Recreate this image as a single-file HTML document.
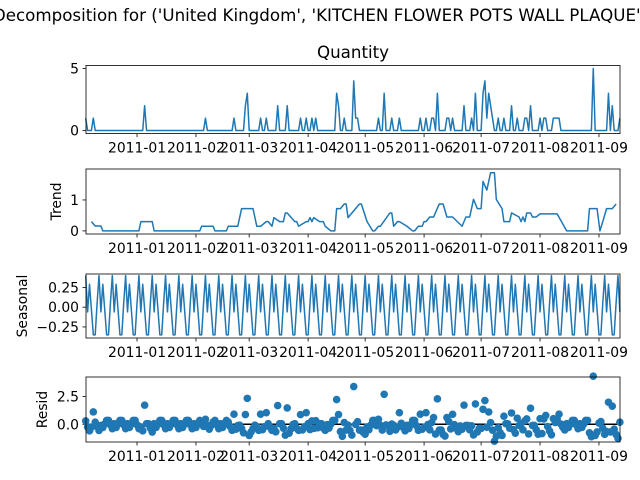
<!DOCTYPE html>
<html><head><meta charset="utf-8">
<style>
html,body{margin:0;padding:0;background:#fff;}
svg{display:block;font-family:"DejaVu Sans","Liberation Sans",sans-serif;}
</style></head>
<body>
<svg id="chart" width="640" height="480" viewBox="0 0 640 480" xmlns="http://www.w3.org/2000/svg">
<text x="320" y="21" text-anchor="middle" font-size="16.7" fill="#000">Decomposition for ('United Kingdom', 'KITCHEN FLOWER POTS WALL PLAQUE')</text>
<text x="353" y="58" text-anchor="middle" font-size="16.7" fill="#000">Quantity</text>
<g id="plots"></g>
</svg>
<script>
// Day index = days since 2010-12-01
const monthLabels = ["2011-01","2011-02","2011-03","2011-04","2011-05","2011-06","2011-07","2011-08","2011-09"];
const monthDays = [31,62,90,121,151,182,212,243,274];
const firstDay = 4, lastDay = 285;
// Observed quantity: nonzero days and values (all other days 0)
const spikeDays = [4,8,35,67,82,88,89,96,99,105,110,117,120,123,125,136,137,140,145,146,147,158,161,165,169,180,183,186,187,189,194,195,197,203,207,209,213,214,215,216,217,218,221,224,228,231,235,236,238,243,245,246,250,251,252,253,271,279,281,285];
const spikeVals = [1,1,2,1,1,2,3,1,1,2,2,1,1,1,1,3,2,1,4,1,1,1,3,1,1,1,1,1,1,3,1,1,1,2,1,3,3,4,1,3,2,1,1,1,2,1,1,1,2,1,1,1,1,1,1,1,5,3,2,1];
// Trend keypoints
const trendDays = [7,9,12,13,32,33,39,40,64,65,71,72,78,79,84,86,92,94,96,99,100,102,103,106,108,109,110,114,115,116,120,121,122,123,124,127,129,130,133,135,136,138,140,141,142,148,149,152,155,156,158,159,164,165,166,168,169,173,176,177,179,181,182,183,185,187,190,192,194,197,202,204,206,208,210,212,213,215,217,219,220,223,224,227,228,232,233,234,235,236,238,239,241,243,252,257,268,269,273,274.5,276,278,281,283];
const trendVals = [0.3,0.16,0.16,0,0,0.3,0.3,0,0,0.15,0.15,0,0,0.15,0.15,0.72,0.72,0.15,0.15,0.3,0.3,0.15,0.43,0.3,0.3,0.58,0.58,0.3,0.3,0.15,0.3,0.3,0.43,0.3,0.43,0.3,0.3,0.15,0,0,0.72,0.72,0.87,0.87,0.43,0.87,0.87,0.3,0,0,0.15,0.15,0.58,0.58,0.15,0.3,0.3,0.15,0,0,0.15,0.15,0.3,0.3,0.45,0.45,0.87,0.87,0.45,0.45,0.15,0.45,0.45,1.02,0.72,0.72,1.6,1.32,1.88,1.88,1.02,0.72,0.3,0.3,0.58,0.45,0.3,0.45,0.3,0.58,0.58,0.45,0.45,0.55,0.55,0,0,0.72,0.72,0,0.3,0.72,0.72,0.87];
// Weekly seasonal component (starting at first day)
const seasonWeek = [0.40,-0.06,0.29,-0.03,-0.35,-0.35,0.05];
const tickValsQ=[0,5], tickLabelsQ=["0","5"];
const tickValsT=[0,1], tickLabelsT=["0","1"];
const tickValsS=[-0.25,0,0.25], tickLabelsS=["−0.25","0.00","0.25"];
const tickValsR=[0,2.5], tickLabelsR=["0.0","2.5"];

const NS="http://www.w3.org/2000/svg";
const g=document.getElementById('plots');
const X0=86,X1=620;
function xs(d){return 78.1+1.901*d;}
function mk(tag,attrs,parent){const e=document.createElementNS(NS,tag);for(const k in attrs)e.setAttribute(k,attrs[k]);(parent||g).appendChild(e);return e;}
const blue="#1f77b4";

const days=[];for(let d=firstDay;d<=lastDay;d++)days.push(d);
const qty=days.map(d=>{const i=spikeDays.indexOf(d);return i>=0?spikeVals[i]:0;});
function trendAt(d){
  if(d<=trendDays[0])return trendVals[0];
  for(let i=1;i<trendDays.length;i++){if(d<=trendDays[i]){const a=trendDays[i-1],b=trendDays[i];const t=b===a?1:(d-a)/(b-a);return trendVals[i-1]+(trendVals[i]-trendVals[i-1])*t;}}
  return trendVals[trendVals.length-1];
}
const seas=days.map((d,i)=>seasonWeek[i%7]);
const resid=days.map((d,i)=>qty[i]-trendAt(d)-seas[i]);

function panel(name,top,bot,vmin,vmax,tv,tl,ylabel){
  const ys=v=>bot-(v-vmin)/(vmax-vmin)*(bot-top);
  const grp=mk('g',{});
  
  
  tv.forEach((v,i)=>{
    const t=mk('line',{x1:X0-3.5,x2:X0,y1:ys(v),y2:ys(v),stroke:'#000','stroke-width':0.8},grp);
    
    
    const l=mk('text',{x:X0-7,y:ys(v)+5,'text-anchor':'end','font-size':13.9},grp);
    l.textContent=tl[i];
    
    
  });
  monthDays.forEach((d,i)=>{
    const t=mk('line',{x1:xs(d),x2:xs(d),y1:bot,y2:bot+3.5,stroke:'#000','stroke-width':0.8},grp);
    
    
    const l=mk('text',{x:xs(d),y:bot+19,'text-anchor':'middle','font-size':13.9},grp);
    l.textContent=monthLabels[i];
    
    
  });
  if(ylabel){
    const yl=mk('text',{x:0,y:0,'text-anchor':'middle','font-size':13.9,transform:`translate(${ylabel[1]},${(top+bot)/2}) rotate(-90)`},grp);
    yl.textContent=ylabel[0];
    
    
  }
  return {ys,grp,top,bot};
}
function frame(p,name){
  const r=mk('rect',{x:X0,y:p.top,width:X1-X0,height:p.bot-p.top,fill:'none',stroke:'#000','stroke-width':0.8},p.grp);
  
  
}
function line(p,xsArr,vals,name){
  const pts=xsArr.map((d,i)=>xs(d).toFixed(2)+','+p.ys(vals[i]).toFixed(2)).join(' ');
  const l=mk('polyline',{points:pts,fill:'none',stroke:blue,'stroke-width':1.5,'stroke-linejoin':'round'},p.grp);
  
  
}
// Quantity
const p1=panel('quantity',65.4,133.6,-0.25,5.25,tickValsQ,tickLabelsQ,null);
line(p1,days,qty,'quantity-line');frame(p1,'quantity');
// Trend
const p2=panel('trend',169,234,-0.1,2.0,tickValsT,tickLabelsT,['Trend',61]);
line(p2,trendDays,trendVals,'trend-line');frame(p2,'trend');
// Seasonal
const p3=panel('seasonal',274,338,-0.39,0.42,tickValsS,tickLabelsS,['Seasonal',27]);
line(p3,days,seas,'seasonal-line');frame(p3,'seasonal');
// Resid
const p4=panel('resid',377,442,-1.6,4.27,tickValsR,tickLabelsR,['Resid',47]);
const zl=mk('line',{x1:X0,x2:X1,y1:p4.ys(0),y2:p4.ys(0),stroke:'#000','stroke-width':1.5},p4.grp);


days.forEach((d,i)=>{
  const c=mk('circle',{cx:xs(d),cy:p4.ys(resid[i]),r:3.8,fill:blue},p4.grp);
  
  
});
frame(p4,'resid');
</script>
</body></html>
